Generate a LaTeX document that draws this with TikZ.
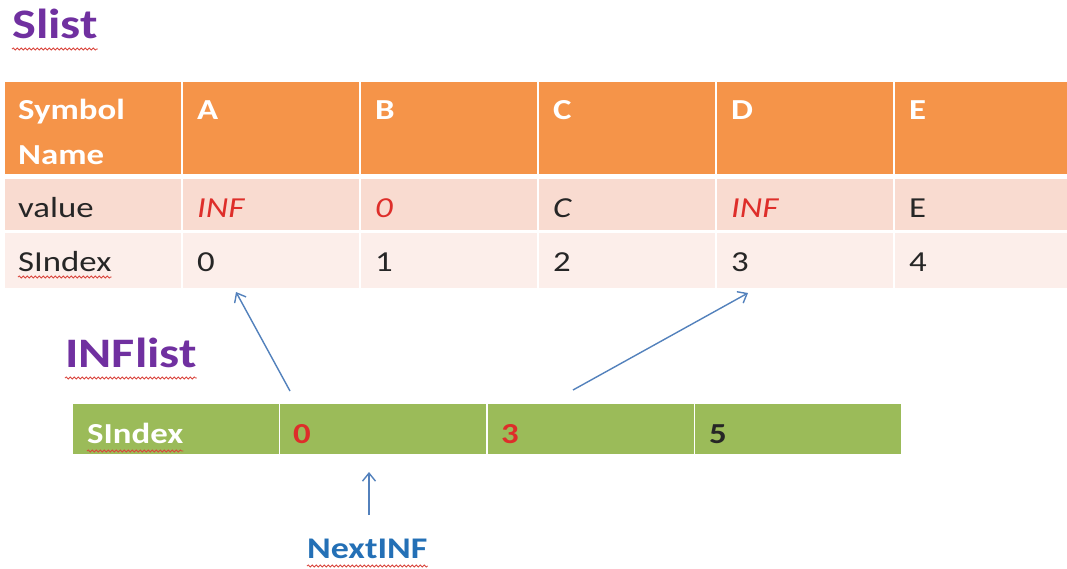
\documentclass[tikz,border=0pt]{standalone}
\usepackage{fontspec}
\setmainfont{Carlito}[FakeStretch=1.2]
\usetikzlibrary{arrows.meta,decorations.pathmorphing}

\definecolor{hdrorange}{HTML}{F59449}
\definecolor{rowvalue}{HTML}{F9DBD0}
\definecolor{rowindex}{HTML}{FCEEEA}
\definecolor{bargreen}{HTML}{9BBB59}
\definecolor{titlepurple}{HTML}{7030A0}
\definecolor{ptrblue}{HTML}{5381BC}
\definecolor{labelblue}{HTML}{2470B6}
\definecolor{valred}{HTML}{DE2E2A}
\definecolor{squigred}{HTML}{D9443C}
\definecolor{ink}{HTML}{262626}

\begin{document}
\begin{tikzpicture}[x=1pt,y=-1pt,
  cell/.style={rectangle, draw=white, line width=1.6pt, anchor=north west,
               inner sep=0pt, outer sep=0pt, minimum width=178pt},
  hdrcell/.style={cell, fill=hdrorange, minimum height=94pt},
  valcell/.style={cell, fill=rowvalue, minimum height=53pt},
  idxcell/.style={cell, fill=rowindex, minimum height=57pt},
  barcell/.style={cell, fill=bargreen, minimum width=207.5pt, minimum height=52pt},
  txt/.style={inner sep=0pt, anchor=base west, font=\fontsize{29}{35}\selectfont, text=ink},
  hdrtxt/.style={txt, font=\fontsize{29}{35}\selectfont\bfseries, text=white},
  inftxt/.style={txt, font=\fontsize{29}{35}\selectfont\itshape, text=valred},
  bartxt/.style={txt, font=\fontsize{29}{35}\selectfont\bfseries},
  title/.style={inner sep=0pt, anchor=base west, font=\fontsize{42}{50}\selectfont\bfseries, text=titlepurple},
  squiggle/.style={draw=squigred, line width=0.8pt,
                   decorate, decoration={snake, amplitude=1.1pt, segment length=4pt}},
  pointer/.style={draw=ptrblue, line width=1.4pt,
                  -{Straight Barb[length=8pt, width=13pt, line width=1.4pt]}}
]
\useasboundingbox (0,0) rectangle (1067,568);

% ---------- Slist table ----------
\foreach \c/\x in {0/4,1/182,2/360,3/538,4/716,5/894} {
  \node[hdrcell] (h\c) at (\x,81) {};
  \node[valcell] (v\c) at (\x,178) {};
  \node[idxcell] (s\c) at (\x,232) {};
}

% header row
\node[hdrtxt] (th0a) at (18,119) {Symbol};
\node[hdrtxt] (th0b) at (18,164) {Name};
\node[hdrtxt] (th1) at (197,119) {A};
\node[hdrtxt] (th2) at (375,119) {B};
\node[hdrtxt] (th3) at (553,119) {C};
\node[hdrtxt] (th4) at (731,119) {D};
\node[hdrtxt] (th5) at (909,119) {E};

% value row
\node[txt] (tv0) at (18,217) {value};
\node[inftxt] (tv1) at (197,217) {INF};
\node[inftxt] (tv2) at (375,217) {0};
\node[inftxt, text=ink] (tv3) at (553,217) {C};
\node[inftxt] (tv4) at (731,217) {INF};
\node[txt] (tv5) at (909,217) {E};

% index row
\node[txt] (ts0) at (18,271) {SIndex};
\node[txt] (ts1) at (197,271) {0};
\node[txt] (ts2) at (375,271) {1};
\node[txt] (ts3) at (553,271) {2};
\node[txt] (ts4) at (731,271) {3};
\node[txt] (ts5) at (909,271) {4};

% ---------- INFlist bar ----------
\foreach \c/\x in {0/72,1/279.5,2/487,3/694.5} {
  \node[barcell] (g\c) at (\x,403) {};
}
\node[bartxt, text=white] (tg0) at (87,443) {SIndex};
\node[bartxt, text=valred] (tg1) at (293,443) {0};
\node[bartxt, text=valred] (tg2) at (501,443) {3};
\node[bartxt, text=ink] (tg3) at (709,443) {5};

% ---------- titles ----------
\node[title] (slist) at (12,38) {Slist};
\node[title] (inflist) at (65,367) {INFlist};
\node[inner sep=0pt, anchor=base west, font=\fontsize{30}{36}\selectfont\bfseries,
      text=labelblue] (nextinf) at (307,558) {NextINF};

% spelling squiggles under the flagged words
\draw[squiggle] ([yshift=-11pt]slist.base west) -- ([yshift=-11pt]slist.base east);
\draw[squiggle] ([yshift=-11pt]inflist.base west) -- ([yshift=-11pt]inflist.base east);
\draw[squiggle] ([yshift=-6pt]ts0.base west) -- ([yshift=-6pt]ts0.base east);
\draw[squiggle] ([yshift=-8pt]tg0.base west) -- ([yshift=-8pt]tg0.base east);
\draw[squiggle] ([yshift=-8pt]nextinf.base west) -- ([yshift=-8pt]nextinf.base east);

% ---------- pointers ----------
\coordinate (p0from) at (290,391);
\coordinate (p0to) at (236,292);
\coordinate (p3from) at (573,390);
\coordinate (p3to) at (748,293);
\coordinate (nfrom) at (369,515);
\coordinate (nto) at (369,472);
\draw[pointer] (p0from) -- (p0to);
\draw[pointer] (p3from) -- (p3to);
\draw[pointer] (nfrom) -- (nto);
\end{tikzpicture}
\end{document}
